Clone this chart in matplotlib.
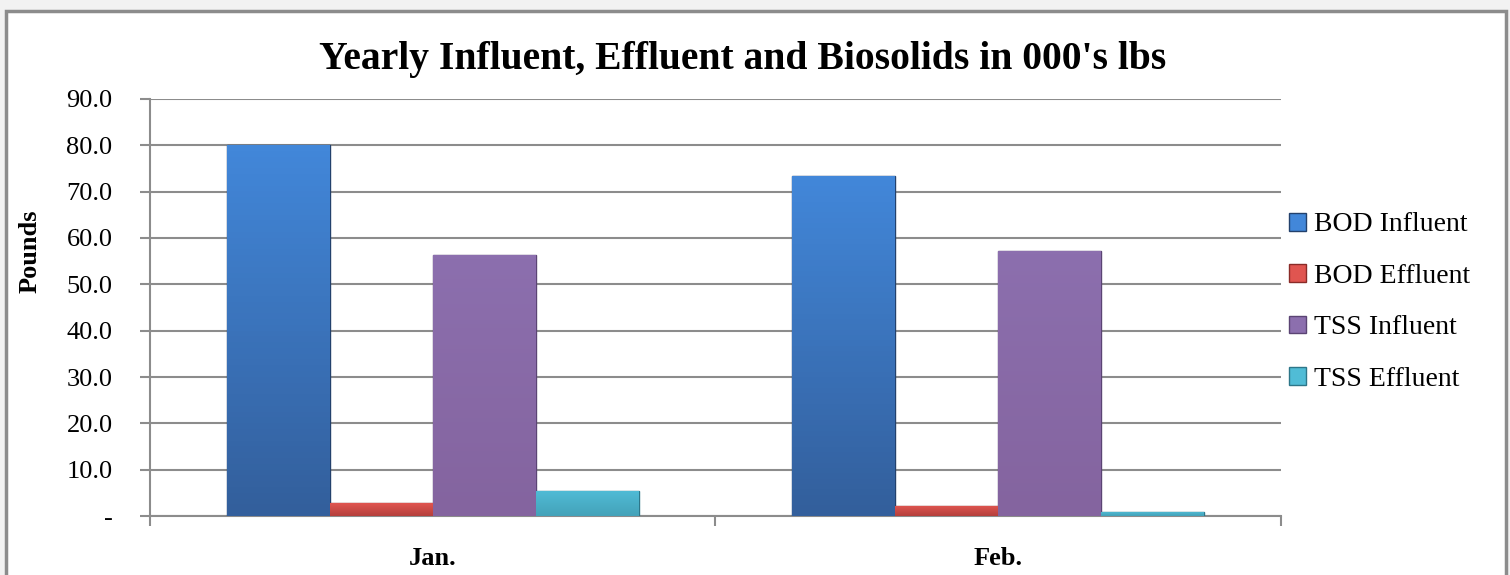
import numpy as np
import matplotlib
matplotlib.use("Agg")
import matplotlib.pyplot as plt
from matplotlib.patches import Rectangle
from matplotlib.colors import LinearSegmentedColormap

# data
months = ["Jan.", "Feb."]
series_names = ["BOD Influent", "BOD Effluent", "TSS Influent", "TSS Effluent"]
bod_influent = [80.0, 73.4]
bod_effluent = [2.8, 2.2]
tss_influent = [56.3, 57.2]
tss_effluent = [5.5, 0.9]
y_ticks = [0, 10, 20, 30, 40, 50, 60, 70, 80, 90]

series = [bod_influent, bod_effluent, tss_influent, tss_effluent]
# (top colour, bottom colour, edge colour)
colors = [
    ("#4287d9", "#335f9c", "#23416c"),
    ("#e05550", "#b5403c", "#8a2b28"),
    ("#8c6fae", "#84649f", "#5b4474"),
    ("#50bcd6", "#44a2b9", "#2d7689"),
]

plt.rcParams['font.family'] = ['Liberation Serif', 'DejaVu Serif']

fig = plt.figure(figsize=(15.1, 5.75), dpi=100)
fig.patch.set_facecolor("#f2f2f2")

# white chart area with grey border
frame = Rectangle((6 / 1510, -0.05), 1500 / 1510, 1.05 - 11 / 575,
                  transform=fig.transFigure, facecolor="white",
                  edgecolor="#8c8c8c", linewidth=2.5, zorder=-5)
fig.patches.append(frame)

ax = fig.add_axes([150 / 1510, 59 / 575, 1131 / 1510, 417 / 575], zorder=2)
ax.set_facecolor("none")

x = np.arange(len(months))
width = 0.182
offsets = (np.arange(len(series)) - 1.5) * width

grad = np.linspace(0, 1, 64).reshape(-1, 1)
for vals, off, (c_top, c_bot, c_edge), name in zip(series, offsets, colors, series_names):
    bars = ax.bar(x + off, vals, width, color=c_top, edgecolor=c_edge,
                  linewidth=1.0, label=name, zorder=3)
    cmap = LinearSegmentedColormap.from_list(name, [c_bot, c_top])
    for b in bars:
        bx, by = b.get_x(), b.get_y()
        bw, bh = b.get_width(), b.get_height()
        im = ax.imshow(grad, cmap=cmap, origin="lower", aspect="auto",
                       extent=(bx, bx + bw, by, by + bh), zorder=3.5)
        im.set_clip_path(b)

ax.set_xlim(-0.5, len(months) - 0.5)
ax.set_ylim(0, 90)
ax.set_yticks(y_ticks)
ax.set_yticklabels(["-"] + [f"{v:.1f}" for v in y_ticks[1:]])
ax.set_xticks(x)
ax.set_xticklabels(months, fontweight="bold", fontsize=19)
ax.tick_params(axis="x", length=0, pad=22)
ax.tick_params(axis="y", labelsize=19, length=7, width=1.5, color="#8c8c8c", pad=20)
for lbl in ax.get_yticklabels():
    lbl.set_horizontalalignment("right")

# category separators below the axis
ax.set_xticks([-0.5, 0.5, 1.5], minor=True)
ax.tick_params(axis="x", which="minor", length=7, width=1.5, color="#8c8c8c")

ax.grid(axis="y", color="#8c8c8c", linewidth=1.5, zorder=0)
ax.set_axisbelow(True)
for side in ["top", "right"]:
    ax.spines[side].set_visible(False)
for side in ["left", "bottom"]:
    ax.spines[side].set_color("#8c8c8c")
    ax.spines[side].set_linewidth(1.5)

ax.set_ylabel("Pounds", fontweight="bold", fontsize=19)
ax.yaxis.set_label_coords(-0.096, 0.635)
fig.text(743 / 1510, 1 - 60 / 575, "Yearly Influent, Effluent and Biosolids in 000's lbs",
         ha="center", va="center", fontsize=28.5, fontweight="bold")

ax.legend(loc="center left", bbox_to_anchor=(1.0, 0.513), frameon=False,
          fontsize=20, handlelength=0.6, handleheight=0.6, handletextpad=0.3,
          labelspacing=0.95, borderaxespad=0.0, borderpad=0.3)

fig.savefig("out.png", dpi=100, facecolor=fig.get_facecolor())
